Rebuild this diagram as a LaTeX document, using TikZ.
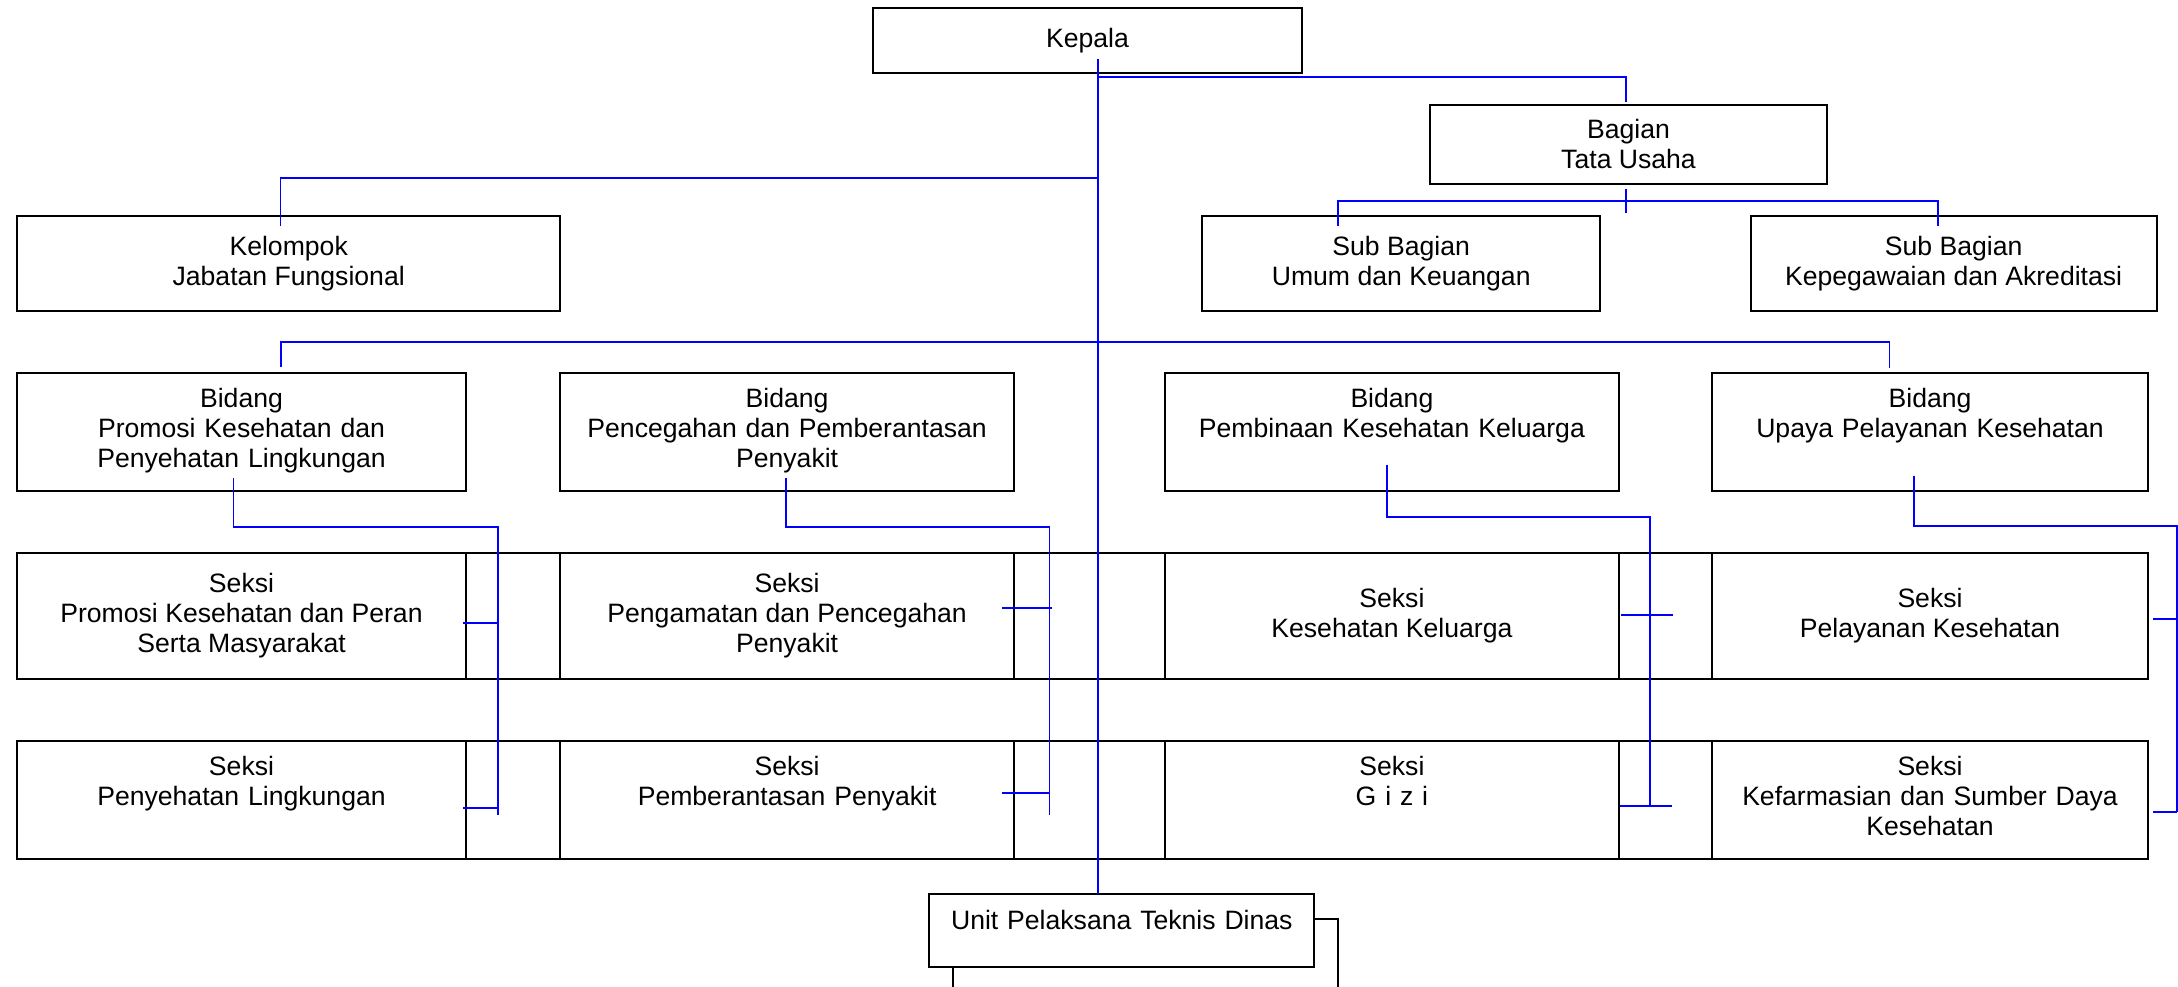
\documentclass[tikz,border=0pt]{standalone}
\usepackage{fontspec}
\setmainfont{Liberation Sans}
\newcommand{\orgfont}{\fontsize{26.6pt}{30pt}\selectfont}

\begin{document}
\begin{tikzpicture}[x=1pt,y=1pt,yscale=-1,xscale=1,
    box/.style={draw, line width=2pt, inner sep=0pt, outer sep=0pt, align=center, font=\orgfont},
    cbox/.style 2 args={box, minimum width=#1, minimum height=#2},
    tbox/.style 2 args={box, anchor=north, text width=#1, text height=35pt, text depth=#2},
    link/.style={draw={rgb,255:red,0;green,0;blue,255}, line width=1.7pt},
    ujung/.style={draw=black, line width=2pt}]
    \useasboundingbox (0,0) rectangle (2178,987);

    %Shape: Rectangle -- pimpinan dan sekretariat
    \node[cbox={429pt}{64.4pt}] (kepala) at (1087.5,40.5) {Kepala};
    \node[cbox={397pt}{78.7pt}] (bagian) at (1628.5,144.3) {Bagian\\Tata Usaha};
    \node[cbox={543.5pt}{95.3pt}] (kelompok) at (288.7,263.3) {Kelompok\\Jabatan Fungsional};
    \node[cbox={397.6pt}{95.3pt}] (subumum) at (1401.2,263.3) {Sub Bagian\\Umum dan Keuangan};
    \node[cbox={405.9pt}{95.3pt}] (subpeg) at (1953.6,263.3) {Sub Bagian\\Kepegawaian dan Akreditasi};

    %Shape: Rectangle -- bidang
    \node[tbox={449.4pt}{83pt}] (bidA) at (241.5,372.7) {Bidang\\Promosi Kesehatan dan\\Penyehatan Lingkungan};
    \node[tbox={454.6pt}{83pt}] (bidB) at (787.1,372.7) {Bidang\\Pencegahan dan Pemberantasan\\Penyakit};
    \node[tbox={453.8pt}{83pt}] (bidC) at (1391.9,372.7) {Bidang\\Pembinaan Kesehatan Keluarga};
    \node[tbox={435.1pt}{83pt}] (bidD) at (1930,372.7) {Bidang\\Upaya Pelayanan Kesehatan};

    %Shape: Rectangle -- seksi baris 1
    \node[cbox={449.4pt}{126pt}] (seksiA1) at (241.5,615.7) {Seksi\\Promosi Kesehatan dan Peran\\Serta Masyarakat};
    \node[cbox={454.6pt}{126pt}] (seksiB1) at (787.1,615.7) {Seksi\\Pengamatan dan Pencegahan\\Penyakit};
    \node[cbox={453.8pt}{126pt}] (seksiC1) at (1391.9,615.7) {Seksi\\Kesehatan Keluarga};
    \node[cbox={435.1pt}{126pt}] (seksiD1) at (1930,615.7) {Seksi\\Pelayanan Kesehatan};
    \draw[line width=2pt] (seksiA1.north west) rectangle (seksiD1.south east);

    %Shape: Rectangle -- seksi baris 2
    \node[tbox={449.4pt}{83.3pt}] (seksiA2) at (241.5,740.7) {Seksi\\Penyehatan Lingkungan};
    \node[tbox={454.6pt}{83.3pt}] (seksiB2) at (787.1,740.7) {Seksi\\Pemberantasan Penyakit};
    \node[tbox={453.8pt}{83.3pt}] (seksiC2) at (1391.9,740.7) {Seksi\\G i z i};
    \node[tbox={435.1pt}{83.3pt}] (seksiD2) at (1930,740.7) {Seksi\\Kefarmasian dan Sumber Daya\\Kesehatan};
    \draw[line width=2pt] (seksiA2.north west) rectangle (seksiD2.south east);

    %Shape: Rectangle -- UPTD
    \node[tbox={385pt}{37.4pt}] (unit) at (1121.8,894.3) {Unit Pelaksana Teknis Dinas};

    %Straight Lines -- garis komando
    \coordinate (trunk) at (1098,59);
    \draw[link] (trunk) -- (trunk |- unit.north);

    \coordinate (tuJ) at (1625.7,77.3);
    \draw[link] (trunk |- tuJ) -- (tuJ) -- ([yshift=-3pt]tuJ |- bagian.north);
    \coordinate (subStub) at (1625.7,213.3);
    \draw[link] ([yshift=5pt]tuJ |- bagian.south) -- (subStub);
    \coordinate (subL) at (1337.7,201.3);
    \coordinate (subR) at (1938,201.3);
    \draw[link] ([yshift=10pt]subL |- subumum.north) -- (subL) -- (subR) -- ([yshift=10pt]subR |- subpeg.north);

    \coordinate (kelJ) at (280.6,177.7);
    \draw[link] (trunk |- kelJ) -- (kelJ) -- ([yshift=10pt]kelJ |- kelompok.north);

    \coordinate (bidL) at (281,342.3);
    \coordinate (bidR) at (1889.4,342.3);
    \draw[link] ([yshift=-6pt]bidL |- bidA.north) -- (bidL) -- (bidR) -- ([yshift=-5pt]bidR |- bidD.north);

    %Straight Lines -- bidang ke seksi
    \coordinate (colA) at (498,526.7);
    \coordinate (endA) at (498,815.3);
    \draw[link] ([xshift=-7.9pt,yshift=-12.4pt]bidA.south) |- (colA) -- (endA);
    \draw[link] ([xshift=-3pt,yshift=7.6pt]seksiA1.east) -- ++(34.7,0);
    \draw[link] ([xshift=-3pt,yshift=7.85pt]seksiA2.east) -- ++(34.7,0);

    \coordinate (colB) at (1049.5,526.7);
    \coordinate (endB) at (1049.5,815);
    \draw[link] ([xshift=-1.4pt,yshift=-12.7pt]bidB.south) |- (colB) -- (endB);
    \draw[link] ([xshift=-12.6pt,yshift=-7.7pt]seksiB1.east) -- ++(50.5,0);
    \draw[link] ([xshift=-12.6pt,yshift=-6.85pt]seksiB2.east) -- ++(47.7,0);

    \coordinate (colC) at (1650,516.7);
    \coordinate (endC) at (1650,805.7);
    \draw[link] ([xshift=-4.9pt,yshift=-25.7pt]bidC.south) |- (colC) -- (endC);
    \draw[link] ([xshift=2.2pt,yshift=-1pt]seksiC1.east) -- ++(52,0);
    \draw[link] ([xshift=1.2pt,yshift=5.85pt]seksiC2.east) -- ++(51.7,0);

    \coordinate (colD) at (2177,526);
    \coordinate (endD) at (2177,812);
    \draw[link] ([xshift=-16.3pt,yshift=-15pt]bidD.south) |- (colD) -- (endD);
    \draw[link] ([xshift=5.9pt,yshift=3.6pt]seksiD1.east) -- ++(23.5,0);
    \draw[link] ([xshift=5.9pt,yshift=12.15pt]seksiD2.east) -- ++(23.5,0);

    %Straight Lines -- dari UPTD
    \coordinate (unitR) at (1337.7,919);
    \coordinate (unitL) at (953.3,987);
    \draw[ujung] (unit.east |- unitR) -- (unitR) -- (unitR |- unitL);
    \draw[ujung] (unitL |- unit.south) -- (unitL);
\end{tikzpicture}
\end{document}
